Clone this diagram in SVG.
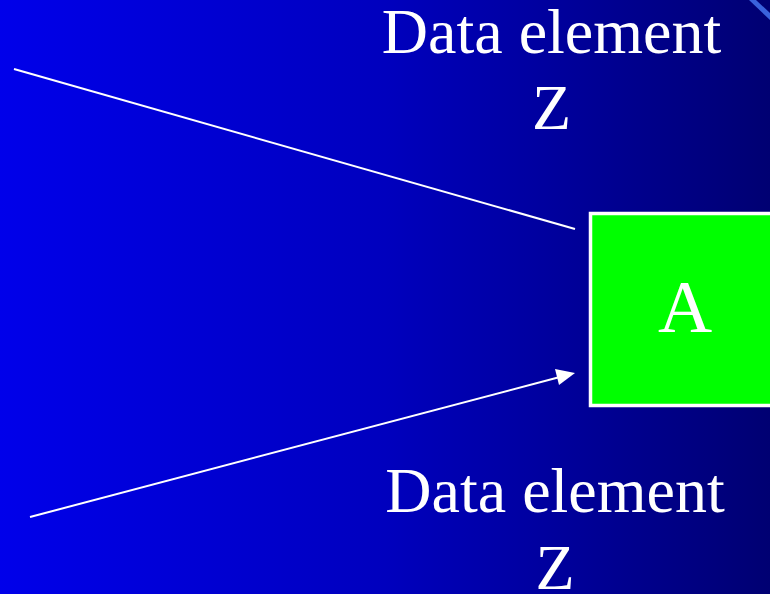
<svg xmlns="http://www.w3.org/2000/svg" width="770" height="594" viewBox="0 0 770 594">
<defs>
<linearGradient id="bg" x1="0" y1="0" x2="1" y2="0">
<stop offset="0" stop-color="#0000EA"/>
<stop offset="0.5" stop-color="#0000BE"/>
<stop offset="1" stop-color="#000072"/>
</linearGradient>
<style>
.lbl{font-family:"Liberation Serif","Times New Roman",serif;fill:#FFFFFF;text-anchor:middle}
.big{font-size:64px}
.edge{stroke:#FFFFFF;stroke-width:2;fill:none}
</style>
</defs>
<rect x="0" y="0" width="770" height="594" fill="url(#bg)"/>
<polygon points="749,0 756,0 770,13 770,20" fill="#3A62DC"/>
<g id="connectors">
<line class="edge" x1="14" y1="69" x2="575" y2="229"/>
<line class="edge" x1="30" y1="517" x2="558" y2="377.5"/>
<polygon points="575,373 555,369 559,385" fill="#FFFFFF"/>
</g>
<g id="node-A">
<rect x="590.5" y="213.5" width="200" height="192" fill="#00FF00" stroke="#FFFFFF" stroke-width="3.5"/>
<text class="lbl" x="685" y="332" font-size="75">A</text>
</g>
<g id="label-top">
<text class="lbl big" x="551.5" y="53">Data element</text>
<text class="lbl big" x="551.5" y="129">Z</text>
</g>
<g id="label-bottom">
<text class="lbl big" x="555" y="512">Data element</text>
<text class="lbl big" x="555" y="589">Z</text>
</g>
</svg>
